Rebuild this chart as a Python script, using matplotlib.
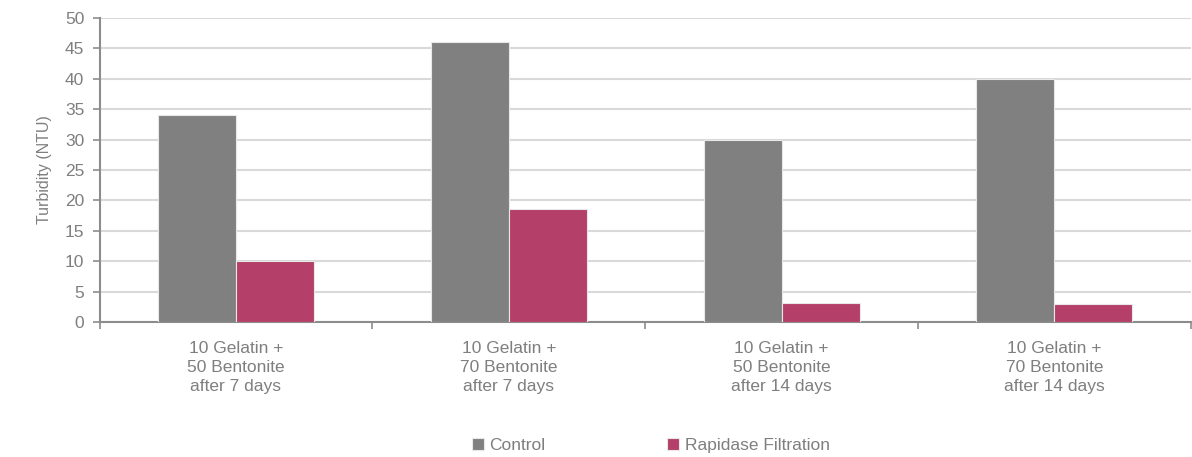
import numpy as np
from matplotlib import pyplot as plt

plt.rcParams['font.family'] = ['Liberation Sans', 'DejaVu Sans']

categories = ['10 Gelatin +\n50 Bentonite\nafter 7 days',
              '10 Gelatin +\n70 Bentonite\nafter 7 days',
              '10 Gelatin +\n50 Bentonite\nafter 14 days',
              '10 Gelatin +\n70 Bentonite\nafter 14 days']
control = [34, 46, 30, 40]
rapidase = [10, 18.6, 3.2, 2.9]
y_ticks = [0, 5, 10, 15, 20, 25, 30, 35, 40, 45, 50]

text_grey = '#7f7f7f'
axis_grey = '#8c8c8c'

fig = plt.figure(figsize=(11.92, 4.57), dpi=100)
ax = fig.add_axes([0.0835, 0.2954, 0.9155, 0.6652])

x = np.arange(len(categories))
w = 0.286
ax.bar(x - w / 2, control, width=w, color='#7f807f', edgecolor='#e8e8e8',
       linewidth=0.8, label='Control', zorder=3)
ax.bar(x + w / 2, rapidase, width=w, color='#b43f68', edgecolor='#e8e8e8',
       linewidth=0.8, label='Rapidase Filtration', zorder=3)

ax.set_xlim(-0.5, len(categories) - 0.5)
ax.set_ylim(0, 50)
ax.set_yticks(y_ticks)
ax.yaxis.grid(True, color='#d9d9d9', linewidth=1.5, zorder=0)

# category labels centred, tick marks on the boundaries between groups
ax.set_xticks(x)
ax.set_xticklabels(categories, fontsize=12.5, color=text_grey, linespacing=1.3)
ax.tick_params(axis='x', which='major', length=0, pad=14)
ax.set_xticks(np.arange(-0.5, len(categories)), minor=True)
ax.tick_params(axis='x', which='minor', length=5, width=1.2, color=axis_grey)
ax.tick_params(axis='y', labelsize=12.5, labelcolor=text_grey, length=5,
               width=1.2, color=axis_grey, pad=6)

for side in ['top', 'right']:
    ax.spines[side].set_visible(False)
for side in ['left', 'bottom']:
    ax.spines[side].set_color(axis_grey)
    ax.spines[side].set_linewidth(1.5)

ax.set_ylabel('Turbidity (NTU)', fontsize=11.5, color=text_grey, labelpad=9)

fig.legend(loc='lower center', bbox_to_anchor=(0.546, -0.025), ncol=2, frameon=False,
           fontsize=12.5, labelcolor=text_grey, handlelength=0.7, handleheight=0.7,
           handletextpad=0.3, columnspacing=7)

plt.savefig('out.png')
